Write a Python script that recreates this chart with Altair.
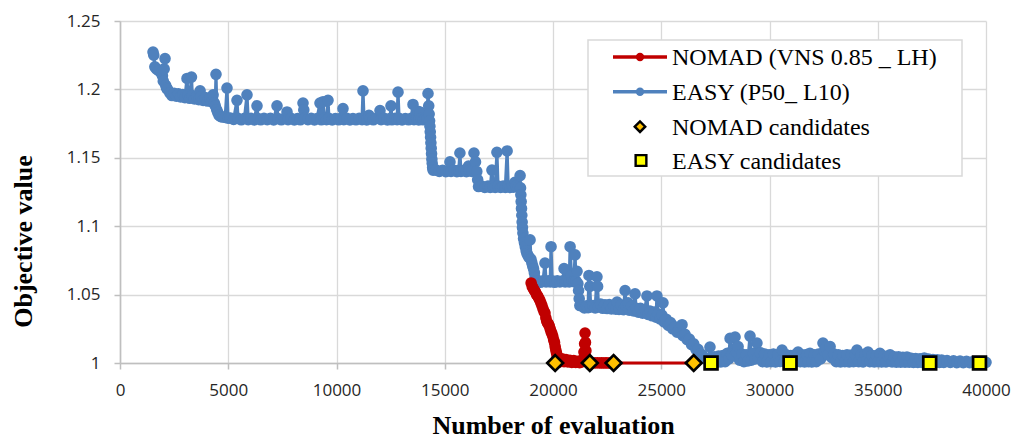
import altair as alt
import pandas as pd

# ---- EASY (P50_ L10): (evaluation number, objective value) ----
easy_start = [
    (1525, 1.2273), (1560, 1.2250), (1610, 1.2165), (1680, 1.2150), (1760, 1.2140),
    (1830, 1.2135), (1900, 1.2120), (1960, 1.2100), (2000, 1.2060), (2040, 1.2150),
    (2080, 1.2225), (2110, 1.2030), (2150, 1.2010), (2200, 1.2000), (2300, 1.1975),
    (2400, 1.1955), (2500, 1.1972), (2600, 1.1950), (2700, 1.1968), (2800, 1.1945),
    (2900, 1.1962), (3000, 1.1940), (3095, 1.2080), (3140, 1.1958), (3220, 1.1935),
    (3300, 1.2090), (3340, 1.1955), (3440, 1.1930), (3540, 1.1950), (3640, 1.1925),
    (3700, 1.1990), (3740, 1.1945), (3840, 1.1920), (3940, 1.1940), (4040, 1.1915),
    (4140, 1.1935), (4220, 1.1910), (4300, 1.1960), (4360, 1.1900), (4400, 1.1880),
    (4434, 1.2110), (4470, 1.1850), (4520, 1.1830), (4580, 1.1810), (4660, 1.1800),
    (4760, 1.1798), (4860, 1.1795), (4942, 1.2010), (4990, 1.1790),
]
easy_plateau_118 = [
    (5100, 1.1790), (5250, 1.1780), (5404, 1.1920), (5450, 1.1788), (5600, 1.1778),
    (5750, 1.1789), (5866, 1.1960), (5920, 1.1779), (6050, 1.1788), (6200, 1.1777),
    (6328, 1.1880), (6380, 1.1787), (6500, 1.1778), (6650, 1.1789), (6800, 1.1779),
    (6950, 1.1788), (7100, 1.1777), (7252, 1.1880), (7300, 1.1787), (7450, 1.1778),
    (7600, 1.1789), (7714, 1.1835), (7760, 1.1779), (7900, 1.1788), (8050, 1.1777),
    (8200, 1.1787), (8330, 1.1778), (8453, 1.1900), (8490, 1.1850), (8530, 1.1789),
    (8680, 1.1779), (8830, 1.1788), (8980, 1.1777), (9100, 1.1787), (9238, 1.1900),
    (9300, 1.1778), (9380, 1.1910), (9440, 1.1789), (9540, 1.1779), (9608, 1.1920),
    (9650, 1.1788), (9800, 1.1777), (9950, 1.1787), (10100, 1.1778), (10200, 1.1789),
    (10300, 1.1860), (10340, 1.1779), (10480, 1.1788), (10620, 1.1777), (10760, 1.1787),
    (10900, 1.1778), (11050, 1.1789), (11180, 1.1779), (11224, 1.1990), (11270, 1.1788),
    (11400, 1.1777), (11500, 1.1810), (11550, 1.1787), (11700, 1.1778), (11850, 1.1789),
    (12009, 1.1845), (12060, 1.1779), (12200, 1.1788), (12350, 1.1777), (12470, 1.1787),
    (12517, 1.1880), (12560, 1.1778), (12700, 1.1789), (12800, 1.1779), (12841, 1.1980),
    (12890, 1.1788), (13030, 1.1777), (13180, 1.1787), (13330, 1.1778), (13450, 1.1789),
    (13534, 1.1890), (13580, 1.1779), (13700, 1.1788), (13760, 1.1840), (13800, 1.1777),
    (13857, 1.1835), (13900, 1.1787), (14000, 1.1778), (14100, 1.1790), (14180, 1.1786),
    (14227, 1.1970), (14260, 1.1880), (14280, 1.1820), (14300, 1.1770), (14315, 1.1730),
    (14330, 1.1690), (14345, 1.1650), (14360, 1.1610), (14375, 1.1570), (14390, 1.1530),
    (14405, 1.1490), (14420, 1.1460), (14440, 1.1430), (14460, 1.1410),
]
easy_plateau_114 = [
    (14600, 1.1410), (14750, 1.1400), (14900, 1.1409), (15050, 1.1399), (15200, 1.1408),
    (15240, 1.1470), (15290, 1.1400), (15420, 1.1409), (15560, 1.1399), (15650, 1.1408),
    (15700, 1.1535), (15750, 1.1400), (15880, 1.1409), (16000, 1.1399), (16100, 1.1440),
    (16150, 1.1408), (16250, 1.1400), (16350, 1.1535), (16420, 1.1470), (16480, 1.1400),
    (16520, 1.1340), (16560, 1.1290),
]
easy_plateau_113 = [
    (16700, 1.1294), (16850, 1.1283), (17000, 1.1293), (17100, 1.1284), (17180, 1.1410),
    (17230, 1.1293), (17330, 1.1284), (17410, 1.1540), (17460, 1.1293), (17580, 1.1283),
    (17700, 1.1293), (17800, 1.1284), (17880, 1.1550), (17930, 1.1293), (18020, 1.1283),
    (18100, 1.1293), (18180, 1.1285), (18240, 1.1320), (18300, 1.1295), (18400, 1.1288),
    (18480, 1.1370), (18500, 1.1280), (18515, 1.1230), (18530, 1.1180), (18545, 1.1130),
    (18560, 1.1080), (18575, 1.1030), (18590, 1.0990), (18610, 1.0950), (18640, 1.0910),
    (18680, 1.0880), (18720, 1.0850), (18760, 1.0820), (18800, 1.0800), (18850, 1.0785),
    (18900, 1.0770), (18940, 1.0900), (18980, 1.0760), (19020, 1.0735), (19060, 1.0710),
    (19100, 1.0690), (19140, 1.0660), (19170, 1.0625), (19220, 1.0600),
]
easy_plateau_106 = [
    (19300, 1.0598), (19420, 1.0590), (19540, 1.0601), (19630, 1.0730), (19680, 1.0592),
    (19780, 1.0601), (19870, 1.0593), (19910, 1.0850), (19960, 1.0600), (20080, 1.0590),
    (20200, 1.0601), (20320, 1.0592), (20450, 1.0600), (20510, 1.0690), (20560, 1.0593),
    (20660, 1.0601), (20750, 1.0592), (20790, 1.0850), (20850, 1.0640), (20900, 1.0600),
    (20960, 1.0594), (21020, 1.0790), (21060, 1.0600), (21110, 1.0670), (21150, 1.0580),
    (21180, 1.0530), (21210, 1.0470), (21240, 1.0420),
]
easy_slope = [
    (21350, 1.0415), (21450, 1.0402), (21550, 1.0418), (21620, 1.0404), (21660, 1.0640),
    (21700, 1.0560), (21740, 1.0410), (21850, 1.0420), (21950, 1.0402), (22030, 1.0630),
    (22060, 1.0560), (22100, 1.0410), (22200, 1.0430), (22300, 1.0400), (22400, 1.0425),
    (22500, 1.0398), (22600, 1.0428), (22700, 1.0396), (22800, 1.0420), (22900, 1.0394),
    (22960, 1.0446), (23050, 1.0392), (23150, 1.0425), (23250, 1.0390), (23330, 1.0530),
    (23380, 1.0420), (23470, 1.0440), (23520, 1.0386), (23620, 1.0415), (23720, 1.0380),
    (23790, 1.0505), (23840, 1.0400), (23940, 1.0372), (24040, 1.0400), (24140, 1.0365),
    (24240, 1.0390), (24340, 1.0490), (24390, 1.0355), (24480, 1.0380), (24580, 1.0345),
    (24680, 1.0372), (24760, 1.0335), (24800, 1.0490), (24850, 1.0360), (24940, 1.0322),
    (25030, 1.0350), (25080, 1.0440), (25130, 1.0300), (25230, 1.0320), (25330, 1.0275),
    (25430, 1.0295), (25530, 1.0250), (25630, 1.0265), (25730, 1.0225), (25830, 1.0240),
    (25960, 1.0280), (26000, 1.0200), (26100, 1.0210), (26200, 1.0170), (26300, 1.0175),
    (26400, 1.0135), (26500, 1.0140), (26600, 1.0100), (26700, 1.0100), (26800, 1.0065),
    (26900, 1.0060), (27000, 1.0035), (27100, 1.0030), (27200, 1.0012),
]
easy_tail = [
    (27250, 1.0117), (27350, 1.0010), (27450, 1.0045), (27550, 1.0005), (27650, 1.0050),
    (27750, 1.0008), (27850, 1.0055), (27950, 1.0010), (28050, 1.0070), (28120, 1.0030),
    (28180, 1.0180), (28250, 1.0060), (28330, 1.0100), (28410, 1.0190), (28480, 1.0080),
    (28550, 1.0120), (28620, 1.0020), (28720, 1.0065), (28820, 1.0010), (28920, 1.0060),
    (29000, 1.0015), (29100, 1.0197), (29160, 1.0020), (29260, 1.0070), (29340, 1.0030),
    (29420, 1.0146), (29480, 1.0040), (29580, 1.0075), (29680, 1.0010), (29780, 1.0065),
    (29880, 1.0008), (29980, 1.0060), (30080, 1.0010), (30180, 1.0065), (30280, 1.0008),
    (30380, 1.0060), (30480, 1.0012), (30580, 1.0095), (30680, 1.0010), (30780, 1.0060),
    (30880, 1.0008), (30980, 1.0055), (31080, 1.0010), (31180, 1.0060), (31260, 1.0012),
    (31320, 1.0080), (31420, 1.0010), (31520, 1.0060), (31620, 1.0008), (31720, 1.0062),
    (31800, 1.0010), (31870, 1.0070), (31960, 1.0008), (32060, 1.0060), (32160, 1.0010),
    (32260, 1.0065), (32360, 1.0030), (32470, 1.0146), (32540, 1.0090), (32600, 1.0110),
    (32700, 1.0060), (32800, 1.0120), (32880, 1.0040), (32980, 1.0065), (33080, 1.0010),
    (33180, 1.0060), (33280, 1.0008), (33380, 1.0055), (33480, 1.0010), (33580, 1.0060),
    (33680, 1.0008), (33780, 1.0058), (33880, 1.0010), (33960, 1.0060), (34040, 1.0095),
    (34120, 1.0010), (34220, 1.0060), (34320, 1.0008), (34420, 1.0065), (34500, 1.0020),
    (34550, 1.0080), (34640, 1.0010), (34740, 1.0055), (34840, 1.0008), (34940, 1.0055),
    (35020, 1.0010), (35100, 1.0070), (35180, 1.0008), (35280, 1.0050), (35380, 1.0008),
    (35480, 1.0050), (35570, 1.0060), (35660, 1.0008), (35760, 1.0045), (35860, 1.0006),
    (35960, 1.0045), (36060, 1.0006), (36160, 1.0042), (36260, 1.0006), (36350, 1.0044),
    (36450, 1.0006), (36550, 1.0035), (36650, 1.0005), (36750, 1.0032), (36850, 1.0005),
    (36950, 1.0030), (37050, 1.0005), (37150, 1.0037), (37250, 1.0005), (37350, 1.0028),
    (37450, 1.0004), (37550, 1.0025), (37650, 1.0004), (37750, 1.0024), (37850, 1.0004),
    (37950, 1.0022), (38050, 1.0004), (38200, 1.0018), (38350, 1.0004), (38500, 1.0016),
    (38650, 1.0003), (38800, 1.0014), (38950, 1.0003), (39100, 1.0012), (39250, 1.0003),
    (39400, 1.0010), (39550, 1.0003), (39700, 1.0008), (39850, 1.0003), (40000, 1.0005),
]

# ---- NOMAD (VNS 0.85 _ LH) ----
nomad_descent = [
    (18990, 1.0585), (19040, 1.0560), (19090, 1.0545), (19140, 1.0530), (19190, 1.0520),
    (19240, 1.0500), (19290, 1.0490), (19340, 1.0475), (19390, 1.0460), (19440, 1.0440),
    (19490, 1.0420), (19540, 1.0395), (19590, 1.0375), (19630, 1.0365), (19670, 1.0330),
    (19710, 1.0305), (19750, 1.0292), (19790, 1.0285), (19830, 1.0270), (19870, 1.0250),
    (19910, 1.0230), (19950, 1.0215), (19990, 1.0195), (20030, 1.0170), (20070, 1.0150),
    (20100, 1.0120), (20130, 1.0095), (20160, 1.0075), (20190, 1.0050), (20220, 1.0020),
    (20250, 1.0005),
]
nomad_flat = [
    (20330, 1.0015), (20420, 1.0030), (20510, 1.0010), (20600, 1.0025), (20690, 1.0008),
    (20780, 1.0020), (20870, 1.0005), (20960, 1.0018), (21050, 1.0005), (21140, 1.0012),
    (21230, 1.0003), (21320, 1.0008), (21390, 1.0030), (21430, 1.0080), (21460, 1.0140),
    (21480, 1.0219), (21500, 1.0150), (21520, 1.0090), (21540, 1.0040), (21580, 1.0010),
    (21650, 1.0003), (21750, 1.0000), (21850, 1.0002), (21950, 1.0000), (22050, 1.0002),
    (22150, 1.0000), (22250, 1.0001), (22350, 1.0000), (22450, 1.0001), (22550, 1.0000),
    (22650, 1.0000), (22800, 1.0000), (26500, 1.0000),
]

# ---- selected candidates ----
nomad_cand_evals = [20100, 21700, 22800, 26500]
nomad_cand_values = [1.0, 1.0, 1.0, 1.0]
easy_cand_evals = [27300, 30950, 37400, 39700]
easy_cand_values = [1.0, 1.0, 1.0, 1.0]

legend_labels = ["NOMAD (VNS 0.85 _ LH)", "EASY (P50_ L10)", "NOMAD candidates", "EASY candidates"]

RED = "#C00000"
BLUE = "#4F81BD"
GOLD = "#FFC000"
YELLOW = "#FFFF00"


def series_frame(*segments):
    rows = [p for seg in segments for p in seg]
    df = pd.DataFrame(rows, columns=["evaluation", "objective"])
    df["order"] = range(len(df))
    return df


easy_df = series_frame(easy_start, easy_plateau_118, easy_plateau_114, easy_plateau_113,
                       easy_plateau_106, easy_slope, easy_tail)
nomad_df = series_frame(nomad_descent, nomad_flat)
nomad_cand_df = pd.DataFrame({"evaluation": nomad_cand_evals, "objective": nomad_cand_values})
easy_cand_df = pd.DataFrame({"evaluation": easy_cand_evals, "objective": easy_cand_values})

x_enc = alt.X(
    "evaluation:Q",
    scale=alt.Scale(domain=[0, 40000], nice=False, zero=False),
    axis=alt.Axis(
        values=list(range(0, 40001, 5000)), format="d",
        title="Number of evaluation",
        grid=True, gridColor="#D9D9D9", gridWidth=1.3,
        domainColor="#BFBFBF", domainWidth=1.6,
        tickColor="#BFBFBF", tickSize=6, tickWidth=1.5,
        labelFont="Open Sans", labelFontSize=17, labelColor="#262626", labelPadding=13,
        labelFlush=False,
        titleFont="Liberation Serif", titleFontSize=26, titleFontWeight="bold",
        titleColor="black", titleX=433, titleY=70, titleBaseline="alphabetic",
        titleAlign="center",
    ),
)
y_enc = alt.Y(
    "objective:Q",
    scale=alt.Scale(domain=[1.0, 1.25], nice=False, zero=False),
    axis=alt.Axis(
        values=[1.0, 1.05, 1.1, 1.15, 1.2, 1.25], format=".2~f",
        title="Objective value",
        grid=True, gridColor="#D9D9D9", gridWidth=1.3,
        domainColor="#BFBFBF", domainWidth=1.6,
        tickColor="#BFBFBF", tickSize=6, tickWidth=1.5,
        labelFont="Open Sans", labelFontSize=17, labelColor="#262626", labelPadding=14,
        labelFlush=False,
        titleFont="Liberation Serif", titleFontSize=26, titleFontWeight="bold",
        titleColor="black", titleX=-97, titleY=220, titleAngle=270,
        titleBaseline="middle", titleAlign="center",
    ),
)

easy_line = alt.Chart(easy_df).mark_line(
    color=BLUE, strokeWidth=3.2,
    point=alt.OverlayMarkDef(filled=True, size=135, color=BLUE, opacity=1),
).encode(x=x_enc, y=y_enc, order="order:Q")

nomad_line = alt.Chart(nomad_df).mark_line(
    color=RED, strokeWidth=3.2,
    point=alt.OverlayMarkDef(filled=True, size=135, color=RED, opacity=1),
).encode(x="evaluation:Q", y="objective:Q", order="order:Q")

nomad_cands = alt.Chart(nomad_cand_df).mark_point(
    shape="diamond", filled=True, fill=GOLD, stroke="black", strokeWidth=2.7,
    size=250, opacity=1,
).encode(x="evaluation:Q", y="objective:Q")

easy_cands = alt.Chart(easy_cand_df).mark_point(
    shape="square", filled=True, fill=YELLOW, stroke="black", strokeWidth=2.7,
    size=165, opacity=1,
).encode(x="evaluation:Q", y="objective:Q")

# ---- legend box, placed in the plot area's pixel space ----
anchor = pd.DataFrame({"anchor": [0]})
legend_layers = [
    alt.Chart(anchor).mark_rect(fill="white", stroke="#D9D9D9", strokeWidth=1.5).encode(
        x=alt.value(468), x2=alt.value(842), y=alt.value(19), y2=alt.value(155)
    )
]
row_y = [36, 70.7, 105.7, 139.5]
for i, label in enumerate(legend_labels):
    yy = row_y[i]
    if i < 2:
        colr = RED if i == 0 else BLUE
        legend_layers.append(
            alt.Chart(anchor).mark_rule(color=colr, strokeWidth=3.5).encode(
                x=alt.value(493), x2=alt.value(547), y=alt.value(yy)
            )
        )
        legend_layers.append(
            alt.Chart(anchor).mark_point(filled=True, color=colr, size=70, opacity=1).encode(
                x=alt.value(520), y=alt.value(yy)
            )
        )
    elif i == 2:
        legend_layers.append(
            alt.Chart(anchor).mark_point(
                shape="diamond", filled=True, fill=GOLD, stroke="black",
                strokeWidth=2.4, size=110, opacity=1,
            ).encode(x=alt.value(520), y=alt.value(yy))
        )
    else:
        legend_layers.append(
            alt.Chart(anchor).mark_point(
                shape="square", filled=True, fill=YELLOW, stroke="black",
                strokeWidth=2.4, size=115, opacity=1,
            ).encode(x=alt.value(521), y=alt.value(yy))
        )
    legend_layers.append(
        alt.Chart(anchor).mark_text(
            align="left", baseline="middle", font="Liberation Serif",
            fontSize=24, color="black",
        ).encode(x=alt.value(552), y=alt.value(yy + 1), text=alt.value(label))
    )

chart = alt.layer(
    easy_line, nomad_line, nomad_cands, easy_cands, *legend_layers
).properties(
    width=866, height=342,
    autosize=alt.AutoSizeParams(type="none"),
    padding={"left": 120, "top": 21, "right": 29, "bottom": 76},
    background="white",
).configure_view(strokeWidth=0)

chart.save("out.html", embed_options={"renderer": "svg", "actions": False})
